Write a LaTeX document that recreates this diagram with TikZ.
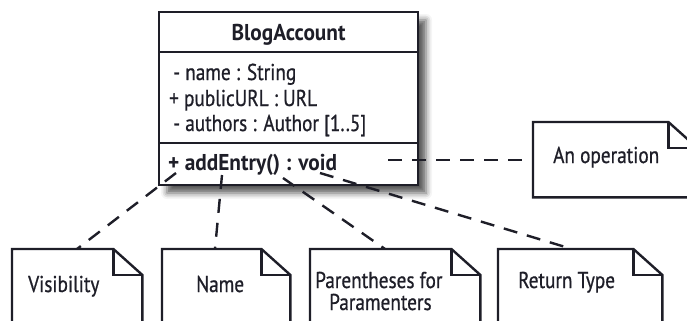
\documentclass[tikz,border=0pt]{standalone}
\usepackage{fontspec}
\setmainfont{PT Sans}[FakeStretch=0.84, UprightFeatures={FakeBold=0.7}, BoldFeatures={FakeStretch=0.93}]
\usetikzlibrary{shadows.blur}
\definecolor{ink}{HTML}{1E1E28}
\begin{document}
\begin{tikzpicture}[x=1bp,y=-1bp,
  line width=2.4bp,
  txt/.style={inner sep=0pt, anchor=base west, font=\fontsize{23}{26}\selectfont, text=ink},
  btxt/.style={txt, font=\fontsize{23}{26}\selectfont\bfseries},
  paper/.style={draw=none, inner sep=0pt, minimum height=100bp},
  link/.style={line width=2.4bp, dash pattern=on 14bp off 10bp, draw=ink},
]
\useasboundingbox (0,0) rectangle (687,320);
\begin{scope}
\clip (0,0) rectangle (687,320);

% class box
\node[draw=ink, fill=white, inner sep=0pt, minimum width=259bp, minimum height=173bp,
      blur shadow={shadow xshift=8bp, shadow yshift=-8bp, shadow blur radius=6bp, shadow opacity=65}]
      (cls) at (288.5,98.5) {};
\draw[ink] (159,52) -- (418,52);
\draw[ink] (159,143) -- (418,143);
\node[btxt, anchor=base] (title) at (288.5,40) {BlogAccount};
\node[txt] (a1) at (172,80) {- name : String};
\node[txt] (a2) at (168,106) {+ publicURL : URL};
\node[txt] (a3) at (172,131) {- authors : Author [1..5]};
\node[btxt] (op) at (167,170) {+ addEntry() : void};

% note papers with a folded corner
\newcommand\dogear[1]{%
  \draw[ink, fill=white] (#1.north west) -- ([xshift=-29bp]#1.north east)
     -- ([yshift=-26bp]#1.north east) -- (#1.south east) -- (#1.south west) -- cycle;
  \draw[ink] ([xshift=-29bp]#1.north east) |- ([yshift=-26bp]#1.north east);
}
\node[paper, minimum width=128bp, anchor=north west] (vis) at (12,249) {};
\node[paper, minimum width=126bp, anchor=north west] (nam) at (162,249) {};
\node[paper, minimum width=168bp, anchor=north west] (par) at (310,249) {};
\node[paper, minimum width=162bp, anchor=north west] (ret) at (498,249) {};
\node[paper, minimum width=162bp, minimum height=73bp, anchor=north west] (ope) at (533,122) {};
\dogear{vis}
\dogear{nam}
\dogear{par}
\dogear{ret}
\dogear{ope}

\node[txt] at (27,292) {Visibility};
\node[txt] at (195,292) {Name};
\node[txt] at (314,288) {Parentheses for};
\node[txt] at (328,310) {Paramenters};
\node[txt] at (517,288) {Return Type};
\node[txt] at (552,163) {An operation};

% connector ends inside the operation compartment
\coordinate (cVis) at (176,173);
\coordinate (cNam) at (222,175);
\coordinate (cPar) at (283,178);
\coordinate (cRet) at (320,173);
\coordinate (cOpe) at (388,160);

\draw[link] (cVis) -- ([xshift=65bp]vis.north west);
\draw[link] (cNam) -- ([xshift=53bp]nam.north west);
\draw[link] (cPar) -- ([xshift=75bp]par.north west);
\draw[link] (cRet) -- ([xshift=74bp]ret.north west);
\draw[link] (cOpe) -- (ope.west |- cOpe);
\end{scope}
\end{tikzpicture}
\end{document}
